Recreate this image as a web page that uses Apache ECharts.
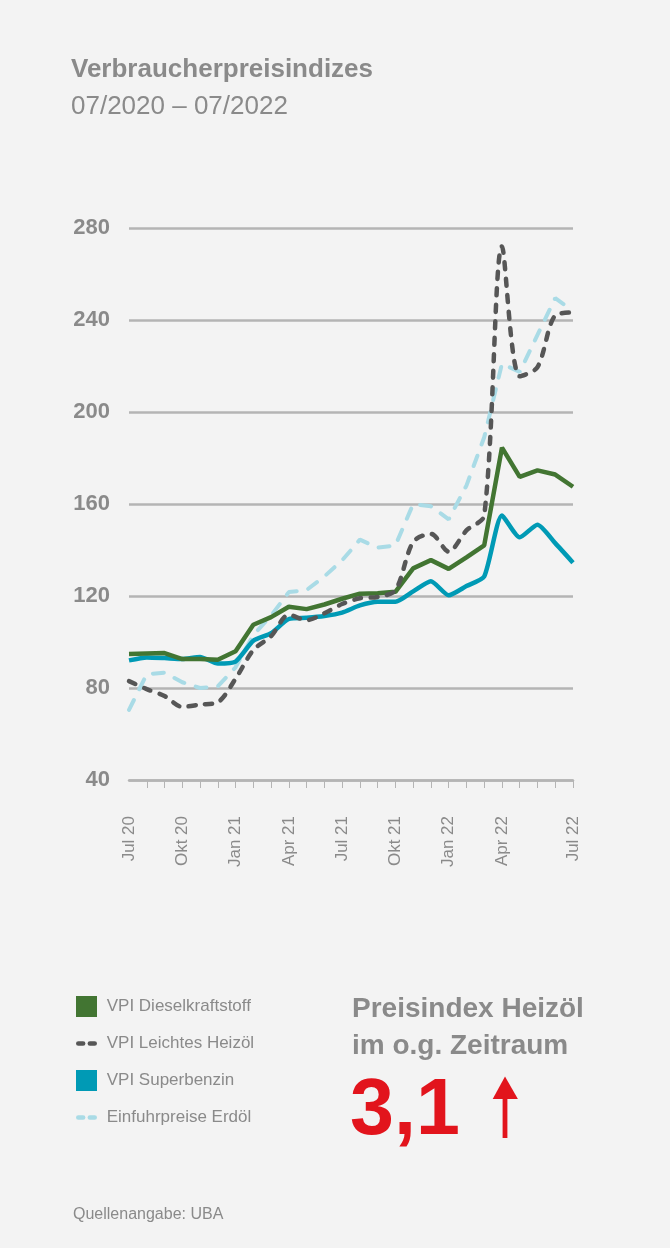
<!DOCTYPE html>
<html lang="de">
<head>
<meta charset="utf-8">
<title>Verbraucherpreisindizes</title>
<script src="https://cdn.jsdelivr.net/npm/echarts@6/dist/echarts.min.js"></script>
<style>
  html, body { margin: 0; padding: 0; background: #f3f3f3; }
  #chart { width: 670px; height: 1248px; }
</style>
</head>
<body>
<div id="chart"></div>
<script>
  // one slot per month, only every third one is labelled (last label sits on the end)
  const xLabels = ['Jul 20', '', '', 'Okt 20', '', '', 'Jan 21', '', '', 'Apr 21', '', '',
    'Jul 21', '', '', 'Okt 21', '', '', 'Jan 22', '', '', 'Apr 22', '', '', '', 'Jul 22'];

  const diesel = [94.8, 95, 95.2, 92.6, 92.6, 92.3, 96, 107.5, 110.8, 115.3, 114.3, 116.3, 118.8,
    121, 121.2, 121.8, 132, 135.6, 131.8, 136.8, 142, 184.5, 171.8, 174.6, 172.8, 167.5];
  const heizoel = [83, 79.5, 76.5, 71.8, 72.8, 73.8, 84, 96.5, 102.5, 111.8, 109.5, 112.5, 116.5,
    119, 119.6, 122.5, 143.5, 147, 139.3, 148.5, 155, 272, 215.5, 219.5, 242, 243.3];
  const superbenzin = [92, 93.3, 93, 92.6, 93.5, 90.6, 91.5, 100.5, 103.8, 110, 110.5, 111.3, 112.8,
    115.9, 117.5, 117.5, 122, 126.4, 120.3, 124.3, 128.5, 155, 145.5, 151, 143, 134.5];
  const erdoel = [70.5, 86, 86.7, 82.5, 80, 80.7, 89, 103, 111.5, 121.7, 122.6, 128.5, 135.5,
    144.5, 141, 142, 160, 159, 153.3, 168, 189, 221, 217.4, 233.5, 249.5, 244];

  const yTicks = { min: 40, max: 280, step: 40 };

  const grey = '#8a8a8a';
  const gridGrey = '#b4b4b4';
  const red = '#e2141c';
  const font = '"Liberation Sans", Arial, sans-serif';
  const dashIcon = 'path://M2.25,0H6.75A2.25,2.25,0,0,1,6.75,4.5H2.25A2.25,2.25,0,0,1,2.25,0Z' +
    'M13.25,0H17.75A2.25,2.25,0,0,1,17.75,4.5H13.25A2.25,2.25,0,0,1,13.25,0Z';

  const myChart = echarts.init(document.getElementById('chart'));

  const option = {
    backgroundColor: '#f3f3f3',
    animation: false,
    textStyle: { fontFamily: font },
    grid: { left: 129, right: 97, top: 228, bottom: 468 },
    legend: {
      orient: 'vertical',
      left: 76,
      top: 996,
      padding: 0,
      itemWidth: 21,
      itemHeight: 21,
      itemGap: 18,
      selectedMode: false,
      formatter: (name) => ' ' + name,
      textStyle: { color: grey, fontSize: 17, fontFamily: font },
      data: [
        { name: 'VPI Dieselkraftstoff', icon: 'rect' },
        { name: 'VPI Leichtes Heizöl', icon: dashIcon },
        { name: 'VPI Superbenzin', icon: 'rect' },
        { name: 'Einfuhrpreise Erdöl', icon: dashIcon },
      ],
    },
    xAxis: {
      type: 'category',
      boundaryGap: false,
      data: xLabels,
      axisLine: { lineStyle: { color: gridGrey, width: 2.5 } },
      axisTick: {
        show: true,
        interval: (index) => index > 0,
        length: 8,
        lineStyle: { color: gridGrey, width: 1 },
      },
      axisLabel: {
        interval: 0,
        rotate: 90,
        margin: 36,
        color: grey,
        fontSize: 17,
        fontFamily: font,
      },
    },
    yAxis: {
      type: 'value',
      min: yTicks.min,
      max: yTicks.max,
      interval: yTicks.step,
      axisLine: { show: false },
      axisTick: { show: false },
      splitLine: { lineStyle: { color: gridGrey, width: 2.5 } },
      axisLabel: {
        margin: 19,
        color: grey,
        fontSize: 22,
        fontWeight: 'bold',
        fontFamily: font,
      },
    },
    series: [
      {
        name: 'Einfuhrpreise Erdöl',
        type: 'line',
        symbol: 'none',
        data: erdoel,
        itemStyle: { color: '#a9dbe6' },
        lineStyle: { color: '#a9dbe6', width: 4, type: [11, 12], cap: 'round' },
        z: 2,
      },
      {
        name: 'VPI Superbenzin',
        type: 'line',
        symbol: 'none',
        smooth: 0.2,
        data: superbenzin,
        itemStyle: { color: '#009ab5' },
        lineStyle: { color: '#009ab5', width: 4.5 },
        z: 3,
      },
      {
        name: 'VPI Dieselkraftstoff',
        type: 'line',
        symbol: 'none',
        data: diesel,
        itemStyle: { color: '#427532' },
        lineStyle: { color: '#427532', width: 4.5 },
        z: 4,
      },
      {
        name: 'VPI Leichtes Heizöl',
        type: 'line',
        symbol: 'none',
        smooth: 0.3,
        data: heizoel,
        itemStyle: { color: '#565656' },
        lineStyle: { color: '#565656', width: 4.5, type: [7, 9.5], cap: 'round' },
        z: 5,
      },
    ],
    graphic: [
      {
        type: 'text', left: 71, top: 57,
        style: { text: 'Verbraucherpreisindizes', fill: grey, font: 'bold 26px ' + font },
      },
      {
        type: 'text', left: 71, top: 94,
        style: { text: '07/2020 – 07/2022', fill: grey, font: '26px ' + font },
      },
      {
        type: 'text', left: 352, top: 995,
        style: { text: 'Preisindex Heizöl', fill: grey, font: 'bold 28px ' + font },
      },
      {
        type: 'text', left: 352, top: 1032,
        style: { text: 'im o.g. Zeitraum', fill: grey, font: 'bold 28px ' + font },
      },
      {
        type: 'text', left: 350, top: 1073,
        style: { text: '3,1', fill: red, font: 'bold 79px ' + font },
      },
      {
        type: 'rect',
        shape: { x: 502.6, y: 1095, width: 4.8, height: 43 },
        style: { fill: red },
      },
      {
        type: 'polygon',
        shape: { points: [[492.7, 1099], [505, 1076.5], [517.9, 1099]] },
        style: { fill: red },
      },
      {
        type: 'text', left: 73, top: 1207,
        style: { text: 'Quellenangabe: UBA', fill: grey, font: '16px ' + font },
      },
    ],
  };

  myChart.setOption(option);
</script>
</body>
</html>
